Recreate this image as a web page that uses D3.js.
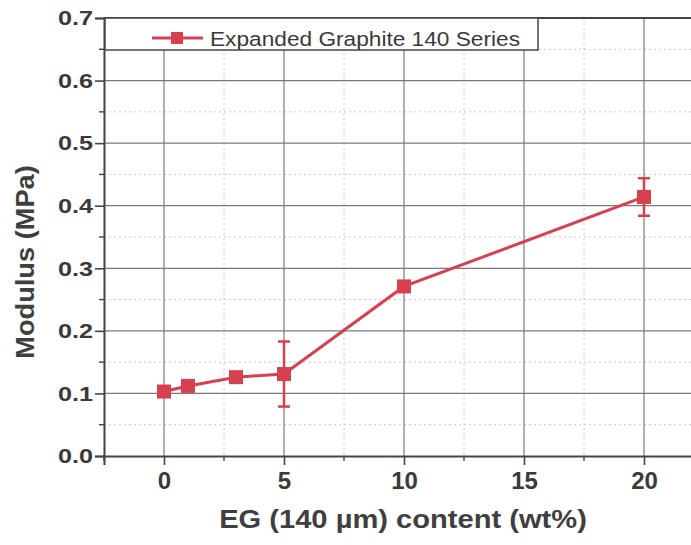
<!DOCTYPE html>
<html><head><meta charset="utf-8">
<script src="https://cdn.jsdelivr.net/npm/d3@7"></script>
<style>body{margin:0;background:#fff;}svg{display:block;}</style>
</head><body>
<div id="chart"></div>
<script>
const xValues = [0, 1, 3, 5, 10, 20];
const modulus = [0.103, 0.112, 0.126, 0.131, 0.271, 0.414];
const errors = [0.004, 0.005, 0.006, 0.052, 0.006, 0.030];
const xTicks = [0, 5, 10, 15, 20];
const yTicks = [0.0, 0.1, 0.2, 0.3, 0.4, 0.5, 0.6, 0.7];
const seriesName = "Expanded Graphite 140 Series";

const W = 691, H = 545;
const FONT = "Liberation Sans, Arial, sans-serif";
const svg = d3.select("#chart").append("svg").attr("width", W).attr("height", H);
const pLeft = 104, pTop = 18, pBottom = 456, pRight = 704;
const x = d3.scaleLinear().domain([-2.5, 22.5]).range([pLeft, pRight]);
const y = d3.scaleLinear().domain([0, 0.7]).range([pBottom, pTop]);
const red = "#d8404f";

// minor gridlines (dotted)
const xMinor = d3.range(-2.5, 22.6, 2.5).filter(v => Math.abs(v % 5) > 0.01);
const yMinor = d3.range(0.05, 0.7, 0.1);
svg.append("g").selectAll("line").data(xMinor).join("line")
  .attr("x1", d => x(d)).attr("x2", d => x(d)).attr("y1", pTop).attr("y2", pBottom)
  .attr("stroke", "#c8c8c8").attr("stroke-width", 1).attr("stroke-dasharray", "2,3");
svg.append("g").selectAll("line").data(yMinor).join("line")
  .attr("x1", pLeft).attr("x2", pRight).attr("y1", d => y(d)).attr("y2", d => y(d))
  .attr("stroke", "#c8c8c8").attr("stroke-width", 1).attr("stroke-dasharray", "2,3");
// major gridlines
svg.append("g").selectAll("line").data(xTicks).join("line")
  .attr("x1", d => x(d)).attr("x2", d => x(d)).attr("y1", pTop).attr("y2", pBottom)
  .attr("stroke", "#7a7a7a").attr("stroke-width", 1.2);
svg.append("g").selectAll("line").data(yTicks.slice(1)).join("line")
  .attr("x1", pLeft).attr("x2", pRight).attr("y1", d => y(d)).attr("y2", d => y(d))
  .attr("stroke", "#7a7a7a").attr("stroke-width", 1.2);

// axes
const yAxis = svg.append("g").attr("transform", `translate(${pLeft},0)`)
  .call(d3.axisLeft(y).tickValues(yTicks).tickFormat(d3.format(".1f")).tickSize(9).tickPadding(2));
const xAxis = svg.append("g").attr("transform", `translate(0,${pBottom})`)
  .call(d3.axisBottom(x).tickValues(xTicks).tickFormat(d3.format("d")).tickSize(9).tickPadding(7));
[xAxis, yAxis].forEach(a => {
  a.select(".domain").attr("stroke", "#444").attr("stroke-width", 2);
  a.selectAll(".tick line").attr("stroke", "#444").attr("stroke-width", 1.6);
  a.selectAll("text").attr("font-family", FONT).attr("font-weight", "bold").attr("fill", "#3a3a3a");
});
xAxis.selectAll("text").attr("font-size", 24);
yAxis.selectAll("text").attr("font-size", 21).each(function() {
  const t = d3.select(this);
  const tx = +t.attr("x");
  t.attr("x", 0).attr("transform", `translate(${tx},0) scale(1.2,1)`);
});
// minor ticks
svg.append("g").selectAll("line").data(yMinor).join("line")
  .attr("x1", pLeft - 5).attr("x2", pLeft).attr("y1", d => y(d)).attr("y2", d => y(d))
  .attr("stroke", "#444").attr("stroke-width", 1.4);
svg.append("g").selectAll("line").data(xMinor).join("line")
  .attr("x1", d => x(d)).attr("x2", d => x(d)).attr("y1", pBottom).attr("y2", pBottom + 5)
  .attr("stroke", "#444").attr("stroke-width", 1.4);
// top frame
svg.append("line").attr("x1", pLeft).attr("x2", pRight).attr("y1", pTop).attr("y2", pTop)
  .attr("stroke", "#444").attr("stroke-width", 2);

// axis titles
svg.append("text").attr("transform", "translate(403,528) scale(1.165,1)").attr("text-anchor", "middle")
  .attr("font-family", FONT).attr("font-weight", "bold")
  .attr("font-size", 25).attr("fill", "#3f3f3f").text("EG (140 µm) content (wt%)");
svg.append("text").attr("transform", "translate(34,262) rotate(-90) scale(1.09,1)").attr("text-anchor", "middle")
  .attr("font-family", FONT).attr("font-weight", "bold")
  .attr("font-size", 25).attr("fill", "#3f3f3f").text("Modulus (MPa)");

// data
const data = xValues.map((v, i) => ({x: v, y: modulus[i], e: errors[i]}));
svg.append("path").datum(data)
  .attr("d", d3.line().x(d => x(d.x)).y(d => y(d.y)))
  .attr("fill", "none").attr("stroke", red).attr("stroke-width", 3);
const eb = svg.append("g").selectAll("g").data(data).join("g").attr("stroke", red).attr("stroke-width", 2.5);
eb.append("line").attr("x1", d => x(d.x)).attr("x2", d => x(d.x))
  .attr("y1", d => y(d.y - d.e)).attr("y2", d => y(d.y + d.e));
eb.append("line").attr("x1", d => x(d.x) - 6).attr("x2", d => x(d.x) + 6)
  .attr("y1", d => y(d.y - d.e)).attr("y2", d => y(d.y - d.e));
eb.append("line").attr("x1", d => x(d.x) - 6).attr("x2", d => x(d.x) + 6)
  .attr("y1", d => y(d.y + d.e)).attr("y2", d => y(d.y + d.e));
svg.append("g").selectAll("rect").data(data).join("rect")
  .attr("x", d => x(d.x) - 7).attr("y", d => y(d.y) - 7).attr("width", 14).attr("height", 14)
  .attr("fill", red);

// legend
svg.append("rect").attr("x", 105).attr("y", 18).attr("width", 433).attr("height", 32)
  .attr("fill", "#fff").attr("stroke", "#444").attr("stroke-width", 1.5);
svg.append("line").attr("x1", 152).attr("x2", 203).attr("y1", 38).attr("y2", 38)
  .attr("stroke", red).attr("stroke-width", 3);
svg.append("rect").attr("x", 171).attr("y", 32).attr("width", 12).attr("height", 12).attr("fill", red);
svg.append("text").attr("transform", "translate(210,46) scale(1.08,1)")
  .attr("font-family", FONT).attr("font-size", 21).attr("fill", "#3a3a3a")
  .text(seriesName);
</script>
</body></html>
